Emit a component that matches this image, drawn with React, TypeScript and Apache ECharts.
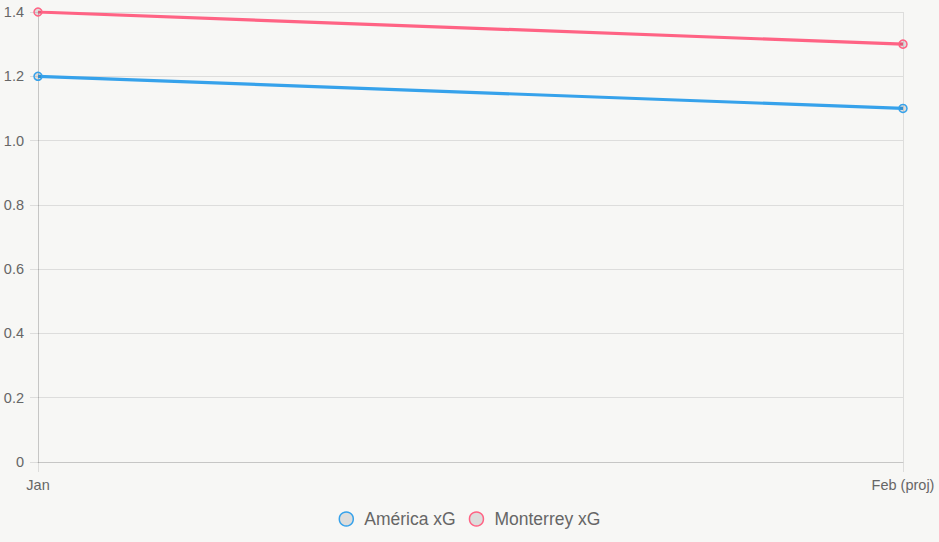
import React, { useEffect, useRef } from "react";
import * as echarts from "echarts";

const categories = ["Jan", "Feb (proj)"];
const americaXG = [1.2, 1.1];
const monterreyXG = [1.4, 1.3];
const seriesNames = ["América xG", "Monterrey xG"];
const seriesColors = ["#36a2eb", "#ff6384"];

export default function App() {
  const ref = useRef<HTMLDivElement>(null);
  useEffect(() => {
    if (!ref.current) return;
    const chart = echarts.init(ref.current, null, { renderer: "svg" });
    const gridColor = "rgba(0,0,0,0.1)";
    const fill = "rgba(0,0,0,0.1)";
    const datasets = [americaXG, monterreyXG];
    chart.setOption({
      animation: false,
      backgroundColor: "#f7f7f5",
      textStyle: { fontFamily: "'Liberation Sans', Arial, sans-serif" },
      grid: { left: 38, right: 36, top: 12, bottom: 80, containLabel: false },
      legend: {
        bottom: 9,
        left: "center",
        icon: "circle",
        itemWidth: 14,
        itemHeight: 14,
        itemGap: 13,
        textStyle: { color: "#666", fontSize: 17.5, padding: [0, 0, 0, 6] },
        data: seriesNames.map((n, i) => ({
          name: n,
          itemStyle: { color: fill, borderColor: seriesColors[i], borderWidth: 1.5 },
        })),
      },
      xAxis: {
        type: "category",
        data: categories,
        boundaryGap: false,
        axisLine: { show: true, lineStyle: { color: gridColor } },
        axisTick: { show: true, length: 10, lineStyle: { color: gridColor } },
        splitLine: { show: true, lineStyle: { color: gridColor } },
        axisLabel: { color: "#666", fontSize: 14.5, margin: 15 },
      },
      yAxis: {
        type: "value",
        min: 0,
        max: 1.4,
        interval: 0.2,
        axisLine: { show: true, lineStyle: { color: gridColor } },
        axisTick: { show: true, length: 8, lineStyle: { color: gridColor } },
        splitLine: { show: true, lineStyle: { color: gridColor } },
        axisLabel: {
          color: "#666",
          fontSize: 14.5,
          margin: 14,
          formatter: (v: number) => (v === 0 ? "0" : v.toFixed(1)),
        },
      },
      series: datasets.map((d, i) => ({
        name: seriesNames[i],
        type: "line",
        data: d,
        symbol: "circle",
        symbolSize: 8,
        showSymbol: true,
        lineStyle: { color: seriesColors[i], width: 3.2 },
        itemStyle: { color: fill, borderColor: seriesColors[i], borderWidth: 1.5 },
      })),
    });
    return () => chart.dispose();
  }, []);
  return (
    <div
      ref={ref}
      style={{ position: "fixed", left: 0, top: 0, width: 939, height: 542 }}
    />
  );
}
